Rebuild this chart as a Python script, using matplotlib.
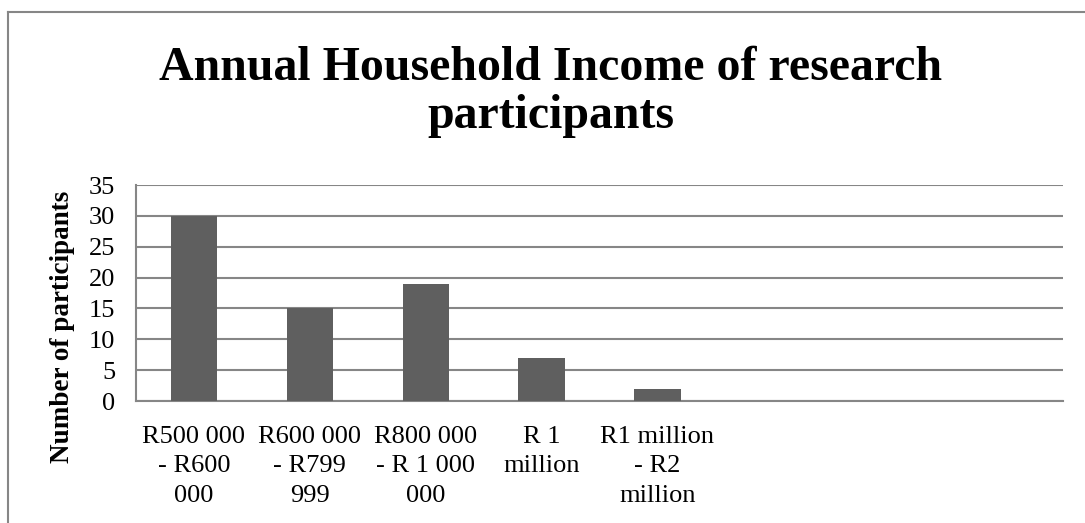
import matplotlib
matplotlib.use("Agg")
import matplotlib.pyplot as plt
from matplotlib.lines import Line2D

# chart data
categories = ["R500 000\n- R600\n000", "R600 000\n- R799\n999", "R800 000\n- R 1 000\n000",
              "R 1\nmillion", "R1 million\n- R2\nmillion"]
participants = [30, 15, 19, 7, 2]
n_slots = 8  # Excel left three empty category slots on the right
y_ticks = [0, 5, 10, 15, 20, 25, 30, 35]

title = "Annual Household Income of research\nparticipants"
ylabel = "Number of participants"

plt.rcParams['font.family'] = ['Liberation Serif', 'DejaVu Serif']

grey = "#868686"
bar_col = "#5f5f5f"

fig = plt.figure(figsize=(10.85, 5.23), dpi=100)
ax = fig.add_axes([136 / 1085, 1 - 401 / 523, (1063 - 136) / 1085, (401 - 185) / 523])

x = list(range(len(participants)))
ax.bar(x, participants, width=0.4, color=bar_col, zorder=3)

ax.set_xlim(-0.5, n_slots - 0.5)
ax.set_ylim(0, 35)
ax.set_yticks(y_ticks)
ax.set_xticks(range(n_slots))
ax.set_xticklabels(categories + [""] * (n_slots - len(categories)),
                   fontsize=19, linespacing=1.44)
ax.tick_params(axis="y", length=0, pad=15, labelsize=19)
ax.tick_params(axis="x", length=0, pad=18)

ax.yaxis.grid(True, color=grey, linewidth=1.5, zorder=0)
ax.set_axisbelow(True)
for s in ["top", "right"]:
    ax.spines[s].set_visible(False)
for s in ["left", "bottom"]:
    ax.spines[s].set_color(grey)
    ax.spines[s].set_linewidth(1.5)

fig.text(63 / 1085, 1 - 327 / 523, ylabel, rotation=90, ha="center", va="center",
         fontsize=19.5, fontweight="bold")

fig.text(551 / 1085, 1 - 128 / 523, title, ha="center", va="baseline",
         fontsize=34.5, fontweight="bold", linespacing=1.12, multialignment="center")

# outer chart frame (cropped on right/bottom)
fig.add_artist(Line2D([8 / 1085, 8 / 1085], [0, 1 - 12 / 523], transform=fig.transFigure,
                      color=grey, linewidth=1.5))
fig.add_artist(Line2D([8 / 1085, 1], [1 - 12 / 523, 1 - 12 / 523], transform=fig.transFigure,
                      color=grey, linewidth=1.5))

fig.savefig("out.png", dpi=100)
